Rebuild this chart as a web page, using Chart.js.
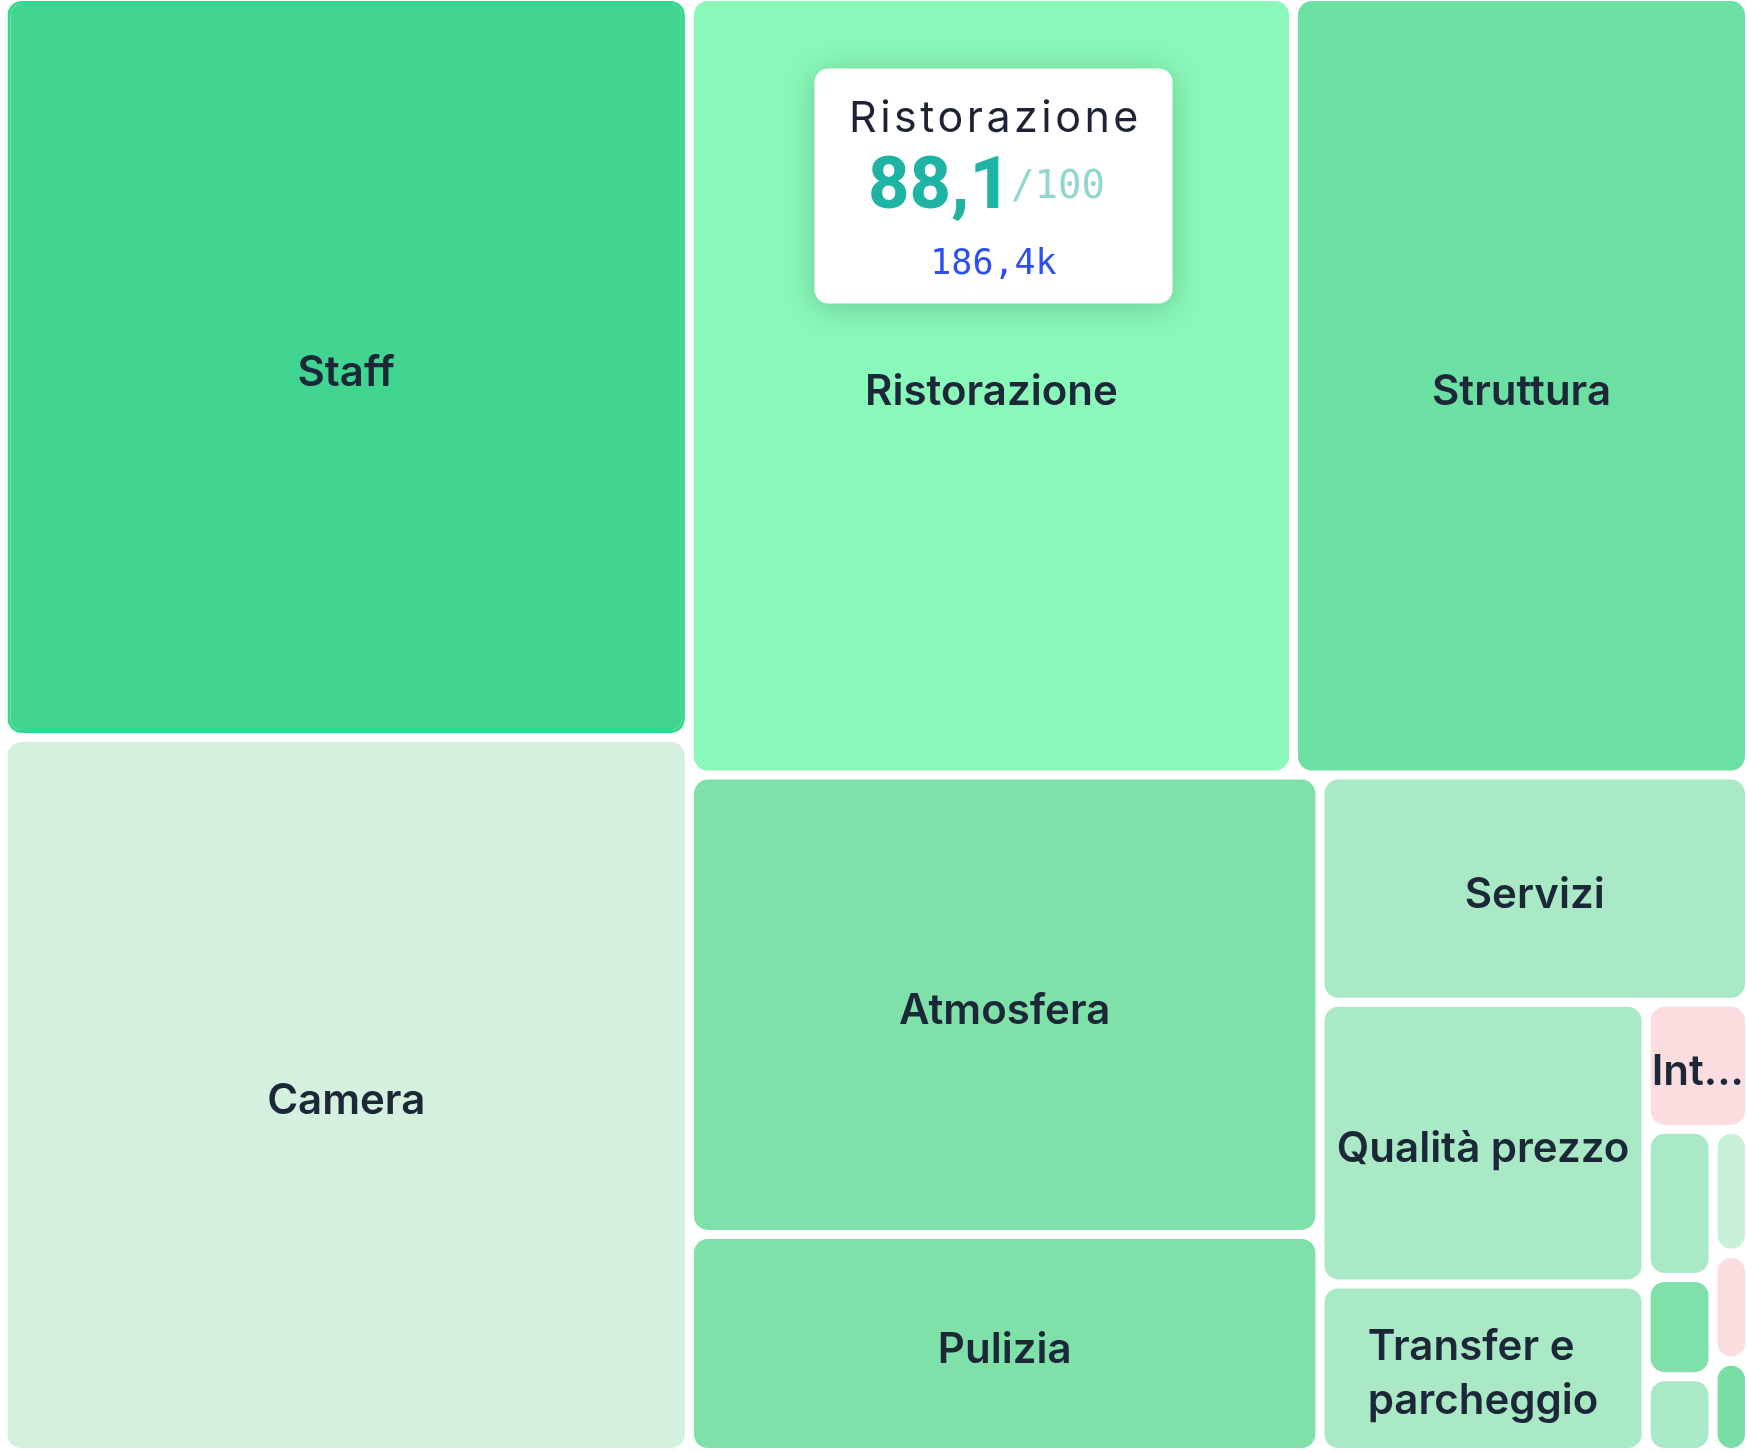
<!DOCTYPE html>
<html lang="it">
<head>
  <meta charset="UTF-8" />
  <meta name="viewport" content="width=device-width, initial-scale=1.0"/>
  <title>Treemap categorie</title>
  <script src="https://cdn.jsdelivr.net/npm/chart.js"></script>
  <style>
    html, body { margin: 0; padding: 0; background: #fff; }
    #wrap { width: 1747px; height: 1452px; position: relative; }
  </style>
</head>
<body>

  <div id="wrap"><canvas id="treemapChart"></canvas></div>

  <script>
    // Categorie e menzioni (migliaia)
    const categories = ['Staff', 'Camera', 'Ristorazione', 'Struttura', 'Atmosfera', 'Pulizia', 'Servizi',
      'Qualità prezzo', 'Transfer e parcheggio', 'Intrattenimento', 'Posizione', 'Spiaggia', 'Piscina',
      'Wi-Fi', 'Rumore', 'Check-in'];
    const mentions = [201.6, 194.5, 186.4, 140.7, 114.8, 54.5, 38.7, 36.4, 21.8, 5.2, 3.93, 2.63, 2.01, 1.79, 1.56, 1.32];
    const cellColors = ['#42d592', '#d3f1de', '#8af8b9', '#6ce0a3', '#80e0aa', '#80e0aa', '#aae9c6',
      '#aae9c6', '#aae9c6', '#fbdde0', '#aae9c6', '#80e0aa', '#aae9c6', '#c9f1d9', '#fbdde0', '#78dea5'];

    // scheda in evidenza
    const cardCategory = 'Ristorazione';
    const cardScore = 88.1;
    const cardMax = 100;
    const selectedCategory = 'Staff';

    // area della treemap in unità di scala (1 unità = 1 px)
    const plotW = 1747, plotH = 1452;
    const tileBox = { x: 3, y: -3.5, w: 1746.5, h: 1456 };

    const fmt1 = new Intl.NumberFormat('it-IT', { minimumFractionDigits: 1, maximumFractionDigits: 1 });

    function aspect(a, b) { return Math.max(a / b, b / a); }

    // squarified con direzione alternata (colonna, riga, colonna, ...)
    function layoutTiles(values, box) {
      const order = values.map((v, i) => i).sort((a, b) => values[b] - values[a]);
      const total = values.reduce((s, v) => s + v, 0);
      const k = box.w * box.h / total;
      let x = box.x, y = box.y, w = box.w, h = box.h;
      let column = true;
      const tiles = [];
      let n = 0;
      while (n < order.length) {
        const strip = [order[n]];
        let sum = values[order[n]] * k;
        n++;
        const side = column ? h : w;
        while (n < order.length) {
          const prev = values[strip[strip.length - 1]] * k;
          const next = values[order[n]] * k;
          const oldT = sum / side, newT = (sum + next) / side;
          if (aspect(newT, prev / newT) > aspect(oldT, prev / oldT)) break;
          sum += next;
          strip.push(order[n]);
          n++;
        }
        const thick = sum / side;
        let pos = column ? y : x;
        strip.forEach(idx => {
          const len = values[idx] * k / thick;
          tiles[idx] = column
            ? { x: x, y: pos, w: thick, h: len }
            : { x: pos, y: y, w: len, h: thick };
          pos += len;
        });
        if (column) { x += thick; w -= thick; } else { y += thick; h -= thick; }
        column = !column;
      }
      return tiles;
    }

    class TreemapController extends Chart.DatasetController {
      update(mode) {
        const meta = this._cachedMeta;
        this.updateElements(meta.data, 0, meta.data.length, mode);
      }
      updateElements(rects, start, count, mode) {
        const { xScale, yScale } = this._cachedMeta;
        const dataset = this.getDataset();
        const tiles = layoutTiles(dataset.data, tileBox);
        const half = (dataset.spacing || 0) / 2;
        for (let i = start; i < start + count; i++) {
          const t = tiles[i];
          const left = xScale.getPixelForValue(t.x) + half;
          const right = xScale.getPixelForValue(t.x + t.w) - half;
          const top = yScale.getPixelForValue(t.y) + half;
          const bottom = yScale.getPixelForValue(t.y + t.h) - half;
          this.updateElement(rects[i], i, {
            x: (left + right) / 2,
            y: top,
            base: bottom,
            width: right - left,
            height: bottom - top,
            horizontal: false,
            borderSkipped: {},
            enableBorderRadius: true,
            inflateAmount: 0,
            options: this.resolveDataElementOptions(i, mode)
          }, mode);
        }
      }
    }
    TreemapController.id = 'treemap';
    TreemapController.defaults = { datasetElementType: false, dataElementType: 'bar' };
    TreemapController.overrides = {
      scales: { x: { type: 'linear' }, y: { type: 'linear' } }
    };
    Chart.register(TreemapController);

    function fitLabel(ctx, text, maxW) {
      if (ctx.measureText(text).width <= maxW) return [text];
      const words = text.split(' ');
      if (words.length > 1 && words.every(w => ctx.measureText(w).width <= maxW)) {
        const lines = [];
        let cur = words[0];
        words.slice(1).forEach(w => {
          const test = cur + ' ' + w;
          if (ctx.measureText(test).width <= maxW) cur = test;
          else { lines.push(cur); cur = w; }
        });
        lines.push(cur);
        return lines;
      }
      for (let n = text.length - 1; n > 0; n--) {
        const t = text.slice(0, n).trimEnd() + '...';
        if (ctx.measureText(t).width <= maxW) return [t];
      }
      return null;
    }

    const tileLabels = {
      id: 'tileLabels',
      afterDatasetsDraw(chart) {
        const ctx = chart.ctx;
        const size = 42, lineH = 54, pad = 1;
        ctx.save();
        ctx.font = '600 ' + size + 'px Inter, "Noto Sans", sans-serif';
        ctx.fillStyle = '#1c2838';
        ctx.textAlign = 'left';
        ctx.textBaseline = 'alphabetic';
        chart.getDatasetMeta(0).data.forEach((el, i) => {
          const left = el.x - el.width / 2, right = el.x + el.width / 2;
          const lines = fitLabel(ctx, chart.data.labels[i], right - left - 2 * pad);
          if (!lines || lines.length * lineH > el.base - el.y) return;
          const blockW = Math.max(...lines.map(l => ctx.measureText(l).width));
          const x0 = el.x - blockW / 2;
          const cy = (el.y + el.base) / 2;
          const firstBase = cy - (lines.length - 1) * lineH / 2 + size * 0.727 / 2 + 4;
          lines.forEach((l, k) => ctx.fillText(l, x0, firstBase + k * lineH));
        });
        ctx.restore();
      }
    };

    const scoreCard = {
      id: 'scoreCard',
      afterDatasetsDraw(chart) {
        const i = categories.indexOf(cardCategory);
        const el = chart.getDatasetMeta(0).data[i];
        const ctx = chart.ctx;
        const w = 358, h = 235;
        const cx = el.x + 2;
        const left = cx - w / 2, top = el.y + 67.5;

        ctx.save();
        ctx.shadowColor = 'rgba(20, 70, 45, 0.25)';
        ctx.shadowBlur = 30;
        ctx.shadowOffsetY = 4;
        ctx.fillStyle = '#ffffff';
        ctx.beginPath();
        ctx.roundRect(left, top, w, h, 14);
        ctx.fill();
        ctx.restore();

        ctx.save();
        ctx.textBaseline = 'alphabetic';
        ctx.textAlign = 'center';
        ctx.fillStyle = '#1e2235';
        ctx.font = '400 43px Inter, "Noto Sans", sans-serif';
        ctx.letterSpacing = '3.5px';
        ctx.fillText(cardCategory, cx + 2, top + 63);
        ctx.letterSpacing = '0px';

        const big = fmt1.format(cardScore);
        const small = '/' + cardMax;
        ctx.textAlign = 'left';
        ctx.font = '800 72px Roboto, sans-serif';
        const bigW = ctx.measureText(big).width;
        ctx.font = '400 39px "DejaVu Sans Mono", monospace';
        const smallW = ctx.measureText(small).width;
        const gx = cx - 7 - (bigW + smallW) / 2;
        ctx.font = '800 72px Roboto, sans-serif';
        ctx.fillStyle = '#1fb3a3';
        ctx.fillText(big, gx, top + 139);
        ctx.font = '400 39px "DejaVu Sans Mono", monospace';
        ctx.fillStyle = '#93d6d0';
        ctx.fillText(small, gx + bigW, top + 129);

        ctx.textAlign = 'center';
        ctx.font = '400 35px "DejaVu Sans Mono", monospace';
        ctx.fillStyle = '#2a50f2';
        ctx.fillText(fmt1.format(mentions[i]) + 'k', cx, top + 205);
        ctx.restore();
      }
    };

    const treemapChart = new Chart(document.getElementById('treemapChart'), {
      type: 'treemap',
      data: {
        labels: categories,
        datasets: [{
          label: 'Menzioni',
          data: mentions,
          backgroundColor: cellColors,
          borderColor: '#30d98b',
          borderWidth: ctx => categories[ctx.dataIndex] === selectedCategory ? 3 : 0,
          borderRadius: 14,
          borderSkipped: false,
          spacing: 9
        }]
      },
      options: {
        responsive: true,
        maintainAspectRatio: false,
        animation: false,
        events: [],
        scales: {
          x: { type: 'linear', min: 0, max: plotW, display: false },
          y: { type: 'linear', min: 0, max: plotH, reverse: true, display: false }
        },
        plugins: {
          legend: { display: false },
          tooltip: { enabled: false }
        }
      },
      plugins: [tileLabels, scoreCard]
    });
  </script>

</body>
</html>
